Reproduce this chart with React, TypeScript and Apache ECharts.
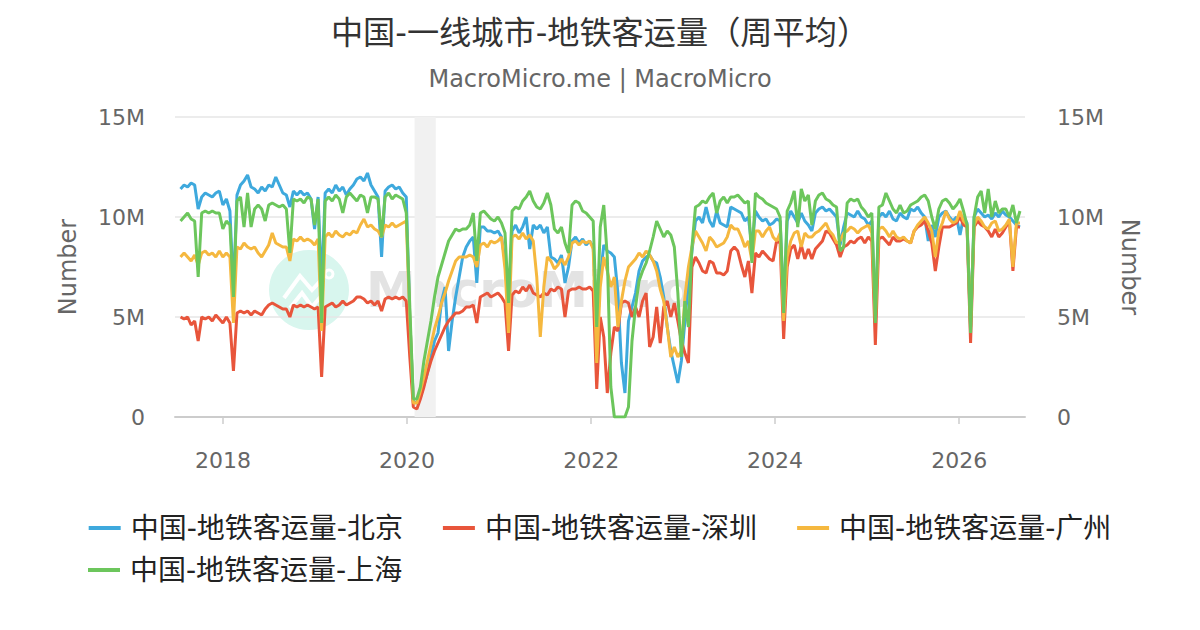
import React, { useEffect, useRef } from "react";
import * as echarts from "echarts";

// Weekly-average metro ridership (millions), sampled every two weeks from 2017-07-16
const START_DATE = "2017-07-16";
const STEP_DAYS = 14;

const seriesNames = [
  "中国-地铁客运量-北京",
  "中国-地铁客运量-深圳",
  "中国-地铁客运量-广州",
  "中国-地铁客运量-上海",
];
const seriesColors = ["#3EA9DD", "#E8553B", "#F5B83F", "#6CC65C"];

const beijing = [
  11.4, 11.6, 11.5, 11.7, 11.6, 10.4, 11.0, 11.2, 11.1, 11.0, 11.2, 11.3, 10.6, 10.9, 10.3, 6.3, 11.1, 11.6, 11.8, 12.1,
  11.5, 11.4, 11.2, 11.5, 11.3, 11.6, 11.5, 12.0, 11.6, 11.2, 11.1, 10.5, 11.3, 11.1, 11.3, 11.1, 11.2, 10.9, 9.4, 11.0,
  6.5, 11.2, 11.4, 11.2, 11.6, 11.3, 11.5, 11.1, 11.4, 11.6, 11.9, 12.0, 11.8, 12.2, 11.6, 11.3, 11.0, 8.0, 11.3, 11.5,
  11.6, 11.4, 11.5, 11.2, 11.0, 5.0, 0.8, 0.7, 1.0, 1.6, 2.2, 3.0, 3.8, 4.2, 5.8, 6.5, 3.3, 4.8, 6.0, 7.0,
  8.0, 8.5, 8.8, 9.0, 6.7, 9.5, 9.5, 9.3, 9.3, 9.2, 9.3, 9.0, 7.8, 5.5, 9.3, 9.6, 9.2, 9.5, 10.0, 8.4,
  9.6, 9.4, 9.6, 9.2, 9.5, 8.0, 7.9, 7.7, 8.1, 6.7, 7.5, 8.8, 9.0, 8.7, 8.9, 8.6, 8.8, 8.5, 5.0, 7.0,
  8.6, 8.3, 8.2, 8.0, 6.2, 2.7, 1.2, 4.8, 5.5, 6.2, 7.3, 7.8, 8.0, 8.1, 7.8, 7.7, 7.0, 6.0, 4.5, 3.3,
  2.5, 1.7, 2.8, 4.8, 6.7, 8.3, 9.8, 10.0, 9.7, 10.5, 9.8, 9.5, 10.3, 9.7, 9.6, 9.5, 10.5, 10.4, 10.3, 10.2,
  9.8, 10.0, 8.5, 10.3, 10.0, 9.8, 9.9, 9.6, 9.7, 9.9, 9.8, 5.5, 9.8, 10.3, 10.0, 9.7, 10.2, 9.8, 9.6, 9.3,
  10.2, 10.4, 10.5, 10.3, 10.4, 10.2, 10.0, 8.6, 9.5, 10.2, 10.1, 10.0, 10.3, 10.0, 9.9, 9.6, 9.8, 5.0, 10.0,
  10.2, 10.0, 10.3, 9.9, 9.8, 10.2, 10.0, 9.9, 10.4, 10.3, 10.5, 10.2, 10.0, 8.8, 9.6, 9.0, 10.0, 10.2, 10.3, 10.0,
  9.8, 10.0, 9.1, 10.0, 9.7, 4.5, 10.0, 10.4, 10.2, 10.0, 10.1, 9.9, 10.2, 10.0, 10.3, 10.1, 10.0, 9.8, 9.6, 9.5,
];

const shenzhen = [
  5.0, 4.9, 5.0, 4.6, 4.8, 3.8, 5.0, 4.9, 5.0, 4.8, 5.1, 4.9, 4.7, 5.0, 4.7, 2.3, 5.2, 5.3, 5.2, 5.3,
  5.1, 5.3, 5.2, 5.1, 5.4, 5.6, 5.7, 5.6, 5.5, 5.4, 5.4, 5.0, 5.6, 5.5, 5.6, 5.5, 5.6, 5.5, 5.4, 5.5,
  2.0, 5.5, 5.6, 5.7, 5.5, 5.6, 5.8, 5.6, 5.7, 5.8, 6.0, 6.0, 5.9, 5.7, 5.8, 5.6, 5.8, 5.3, 5.9, 6.0,
  5.9, 6.0, 5.9, 6.0, 5.8, 3.0, 0.5, 0.4, 0.9, 1.5, 2.2, 2.8, 3.3, 3.7, 4.1, 4.5, 4.8, 5.0, 5.2, 5.2,
  5.3, 5.5, 5.5, 5.6, 4.7, 6.0, 6.1, 6.2, 6.0, 6.1, 6.2, 6.0, 5.7, 3.3, 6.1, 6.3, 6.2, 6.5, 6.3, 6.6,
  6.2, 6.1, 6.0, 6.2, 6.1, 6.4, 6.3, 6.5, 6.4, 5.0, 6.3, 6.4, 6.4, 6.5, 6.4, 6.4, 6.5, 6.3, 1.4, 5.0,
  4.0, 1.2, 3.2, 4.5, 4.3, 5.7, 5.8, 5.7, 5.0, 5.5, 5.0, 5.8, 6.2, 3.5, 4.0, 5.5, 3.7, 5.5, 5.8, 5.0,
  5.7, 4.8, 3.8, 3.2, 2.7, 7.5, 8.0, 7.7, 7.3, 7.2, 7.8, 7.7, 7.2, 7.2, 7.1, 7.3, 8.3, 8.5, 8.3, 7.6,
  7.0, 7.8, 6.2, 8.2, 8.0, 8.3, 8.1, 7.9, 7.8, 8.8, 8.7, 3.9, 7.5, 8.4, 8.6, 7.9, 8.6, 7.9, 8.4, 7.9,
  8.4, 8.6, 8.8, 9.3, 9.2, 8.9, 8.6, 8.0, 8.5, 8.6, 8.8, 8.7, 8.9, 9.0, 8.7, 9.0, 8.8, 3.6, 8.9,
  9.0, 8.8, 8.6, 9.0, 8.8, 8.8, 8.9, 8.8, 8.7, 9.3, 9.5, 9.6, 9.8, 9.3, 8.7, 7.3, 8.5, 9.5, 9.5, 9.5,
  9.6, 9.7, 10.0, 9.6, 9.5, 3.7, 9.5, 9.8, 9.6, 9.5, 9.3, 9.0, 9.4, 9.0, 9.2, 9.5, 9.8, 7.3, 9.5, 9.5,
];

const guangzhou = [
  8.0, 8.2, 8.0, 7.8, 8.1, 7.6, 8.2, 8.3, 8.1, 8.2, 8.0, 8.3, 8.0, 8.2, 8.0, 4.7, 8.5, 8.4, 8.7, 8.5,
  8.4, 8.5, 8.2, 8.0, 8.3, 8.6, 9.2, 8.7, 8.6, 8.5, 8.5, 7.8, 8.9, 8.8, 9.0, 8.8, 8.9, 8.8, 8.6, 8.9,
  4.3, 9.0, 9.2, 9.0, 9.3, 9.1, 9.0, 9.2, 9.1, 9.3, 9.2, 9.6, 9.9, 9.5, 9.6, 9.4, 9.3, 9.0, 9.6, 9.5,
  9.7, 9.5, 9.6, 9.7, 9.8, 5.0, 0.7, 0.7, 1.3, 2.0, 2.8, 3.6, 4.4, 5.0, 5.7, 6.2, 6.8, 7.3, 7.8, 8.0,
  8.0, 8.0, 8.1, 8.0, 7.5, 8.6, 8.7, 8.5, 8.8, 8.7, 8.8, 9.0, 7.4, 4.2, 9.0, 9.1, 8.9, 9.2, 8.9, 9.1,
  8.8, 7.0, 4.0, 6.5, 8.0, 7.8, 7.4, 7.6, 7.9, 7.6, 8.0, 8.7, 8.8, 8.6, 8.8, 8.7, 8.8, 8.4, 2.7, 6.5,
  8.0, 7.3, 6.5, 7.0, 4.5, 5.8, 6.8, 7.5, 7.7, 7.9, 8.2, 8.0, 8.3, 8.1, 7.8, 7.3, 6.4, 5.8, 4.5, 3.0,
  3.5, 3.0, 3.3, 6.0, 7.5, 8.5, 9.3, 9.0, 8.7, 8.3, 9.0, 8.8, 8.5, 8.6, 8.7, 9.0, 9.6, 9.4, 9.4, 9.0,
  8.5, 8.8, 7.8, 9.3, 9.3, 9.0, 9.3, 9.5, 9.0, 8.8, 9.2, 4.8, 8.0, 8.8, 9.2, 9.3, 8.5, 9.2, 9.0, 9.0,
  9.2, 9.3, 9.5, 9.7, 9.3, 9.1, 8.7, 8.8, 9.2, 9.3, 9.5, 9.4, 9.2, 9.4, 9.5, 9.6, 9.2, 4.8, 9.4,
  9.5, 9.3, 9.0, 9.3, 9.0, 8.9, 9.0, 8.8, 8.7, 9.3, 9.6, 9.8, 10.0, 9.7, 9.3, 8.0, 9.3, 9.7, 10.3, 9.9,
  9.7, 9.8, 10.3, 9.8, 9.6, 4.5, 9.6, 10.0, 9.8, 9.5, 9.4, 9.7, 9.8, 9.3, 9.4, 9.6, 9.9, 7.5, 9.7, 9.7,
];

const shanghai = [
  9.8, 10.0, 10.2, 9.9, 9.8, 7.0, 10.2, 10.3, 10.2, 10.3, 10.2, 10.2, 9.4, 9.8, 9.6, 6.0, 10.8, 11.0, 9.5, 11.2,
  9.5, 10.4, 10.6, 10.4, 9.8, 10.6, 10.7, 10.6, 10.5, 10.6, 10.4, 8.2, 10.9, 10.8, 10.9, 10.7, 11.0, 10.9, 9.6, 10.9,
  4.7, 10.8, 11.0, 10.8, 11.1, 10.9, 10.2, 11.0, 11.2, 11.0, 10.8, 11.1, 11.0, 10.2, 11.0, 11.0, 10.9, 9.0, 11.0, 11.2,
  10.9, 11.1, 11.0, 10.9, 10.2, 5.5, 0.9, 0.9, 1.5, 2.8, 3.8, 4.8, 6.0, 7.0, 7.6, 8.2, 8.8, 9.1, 9.4, 9.3,
  9.4, 9.4, 9.6, 10.2, 7.8, 10.2, 10.3, 10.1, 9.9, 9.8, 10.0, 9.7, 9.2, 5.7, 10.3, 10.5, 10.4, 10.8, 11.0, 11.3,
  10.8, 10.5, 10.4, 10.7, 11.2, 10.6, 9.4, 9.2, 9.5, 8.7, 8.2, 10.6, 10.8, 10.7, 10.3, 10.2, 10.0, 9.8, 4.5, 9.5,
  10.6, 8.0, 1.5, 0.0, 0.0, 0.0, 0.0, 0.5, 3.8, 5.5, 6.8, 7.3, 7.7, 8.3, 9.0, 9.8, 9.4, 9.0, 9.3, 9.1,
  8.5, 6.2, 3.0, 5.8, 4.5, 8.5, 10.5, 10.6, 10.8, 10.7, 11.0, 11.2, 10.2, 10.8, 11.0, 10.7, 11.0, 11.0, 11.1, 10.9,
  10.7, 10.8, 7.7, 11.2, 11.0, 10.9, 10.7, 10.6, 10.5, 10.4, 10.0, 5.2, 10.3, 10.7, 11.3, 9.5, 11.4, 10.8, 11.1, 9.6,
  10.8, 11.1, 11.2, 10.9, 10.8, 10.6, 10.5, 8.3, 8.5, 10.7, 10.9, 10.8, 10.9, 10.5, 10.3, 10.0, 10.2, 4.7, 10.5,
  10.6, 11.2, 10.8, 10.4, 10.2, 10.6, 10.2, 10.3, 10.6, 10.7, 10.8, 11.0, 11.1, 10.8, 10.0, 9.4, 10.4, 10.8, 10.9, 10.7,
  10.4, 10.6, 10.9, 10.3, 9.6, 4.2, 10.0, 11.0, 11.3, 10.2, 11.4, 10.0, 10.8, 10.2, 10.4, 10.4, 10.0, 10.6, 9.7, 10.3,
];

const yearTicks = [2018, 2020, 2022, 2024, 2026];
const yTicks = [0, 5, 10, 15];
const shadedRange = ["2020-01-31", "2020-04-24"];
const axisRange = ["2017-06-24", "2026-09-19"];

const FONT = '"DejaVu Sans", "Noto Sans CJK SC", sans-serif';

function ts(d: string): number {
  return Date.parse(d + "T00:00:00Z");
}

export default function App() {
  const ref = useRef<HTMLDivElement>(null);

  useEffect(() => {
    if (!ref.current) return;
    const chart = echarts.init(ref.current, undefined, { renderer: "svg" });
    const start = ts(START_DATE);
    const step = STEP_DAYS * 86400000;
    const toPairs = (arr: number[]) => arr.map((v, i) => [start + i * step, v]);
    const allData = [beijing, shenzhen, guangzhou, shanghai];
    const yearValues = yearTicks.map((y) => Date.UTC(y, 0, 1));

    const yAxisBase = {
      type: "value",
      min: yTicks[0],
      max: yTicks[yTicks.length - 1],
      interval: 5,
      axisLine: { show: false },
      axisTick: { show: false },
      name: "Number",
      nameLocation: "middle",
      nameTextStyle: { fontSize: 24, color: "#666", fontFamily: FONT },
    };

    const legendCommon = {
      orient: "horizontal",
      icon: "rect",
      itemWidth: 32,
      itemHeight: 4,
      itemGap: 40,
      selectedMode: false,
      textStyle: { fontSize: 28, color: "#222", fontFamily: FONT, padding: [0, 0, 0, 5] },
    };

    chart.setOption({
      animation: false,
      backgroundColor: "#ffffff",
      title: [
        {
          text: "中国-一线城市-地铁客运量（周平均）",
          left: "center",
          top: 12,
          textStyle: { fontSize: 32.2, color: "#333", fontWeight: "normal", fontFamily: FONT },
        },
        {
          text: "MacroMicro.me | MacroMicro",
          left: "center",
          top: 62,
          textStyle: { fontSize: 24, color: "#666", fontWeight: "normal", fontFamily: FONT },
        },
      ],
      graphic: [
        { type: "circle", z: -10, shape: { cx: 309, cy: 290, r: 40 }, style: { fill: "#d8f6ee" } },
        {
          type: "polyline",
          z: -9,
          shape: { points: [[284, 298], [300, 276], [312, 290], [324, 277]] },
          style: { stroke: "#ffffff", lineWidth: 4, fill: null },
        },
        {
          type: "polyline",
          z: -9,
          shape: { points: [[290, 308], [302, 293], [312, 307], [322, 295]] },
          style: { stroke: "#ffffff", lineWidth: 4, fill: null },
        },
        { type: "circle", z: -9, shape: { cx: 329, cy: 274, r: 4 }, style: { stroke: "#ffffff", lineWidth: 3, fill: null } },
        {
          type: "text",
          z: -10,
          x: 366,
          y: 290,
          style: {
            text: "MacroMicro",
            fill: "#e3e3e3",
            font: 'bold 50px "DejaVu Sans", sans-serif',
            verticalAlign: "middle",
            align: "left",
          },
        },
      ],
      legend: [
        { ...legendCommon, data: seriesNames.slice(0, 3), left: "center", top: 509 },
        { ...legendCommon, data: seriesNames.slice(3), left: 83, top: 551 },
      ],
      grid: { left: 175, right: 175, top: 117, bottom: 213, containLabel: false },
      xAxis: {
        type: "value",
        min: ts(axisRange[0]),
        max: ts(axisRange[1]),
        axisLine: { show: true, onZero: false, lineStyle: { color: "#cccccc", width: 2 } },
        axisTick: { show: true, length: 7, customValues: yearValues, lineStyle: { color: "#cccccc", width: 1.5 } },
        axisLabel: {
          customValues: yearValues,
          formatter: (v: number) => String(new Date(v).getUTCFullYear()),
          fontSize: 22,
          color: "#666",
          margin: 32,
          fontFamily: FONT,
        },
        splitLine: { show: false },
      },
      yAxis: [
        {
          ...yAxisBase,
          position: "left",
          nameGap: 95,
          nameRotate: 90,
          splitLine: { show: true, lineStyle: { color: "#e6e6e6", width: 1.5 } },
          axisLabel: {
            formatter: (v: number) => (v === 0 ? "0" : v + "M"),
            fontSize: 22,
            color: "#666",
            margin: 30,
            fontFamily: FONT,
          },
        },
        {
          ...yAxisBase,
          position: "right",
          nameGap: 93,
          nameRotate: -90,
          splitLine: { show: false },
          axisLabel: {
            formatter: (v: number) => (v === 0 ? "0" : v + "M"),
            fontSize: 22,
            color: "#666",
            margin: 32,
            fontFamily: FONT,
          },
        },
      ],
      series: seriesNames.map((name, k) => {
        const s: any = {
          name,
          type: "line",
          yAxisIndex: 0,
          showSymbol: false,
          symbol: "none",
          color: seriesColors[k],
          lineStyle: { width: 3, color: seriesColors[k] },
          data: toPairs(allData[k]),
          z: 2 + k,
        };
        if (k === 0) {
          s.markArea = {
            silent: true,
            itemStyle: { color: "#f1f1f1" },
            data: [[{ xAxis: ts(shadedRange[0]) }, { xAxis: ts(shadedRange[1]) }]],
          };
        }
        return s;
      }),
    });

    return () => chart.dispose();
  }, []);

  return (
    <div
      ref={ref}
      style={{ position: "fixed", left: 0, top: 0, width: 1200, height: 630, background: "#fff" }}
    />
  );
}
